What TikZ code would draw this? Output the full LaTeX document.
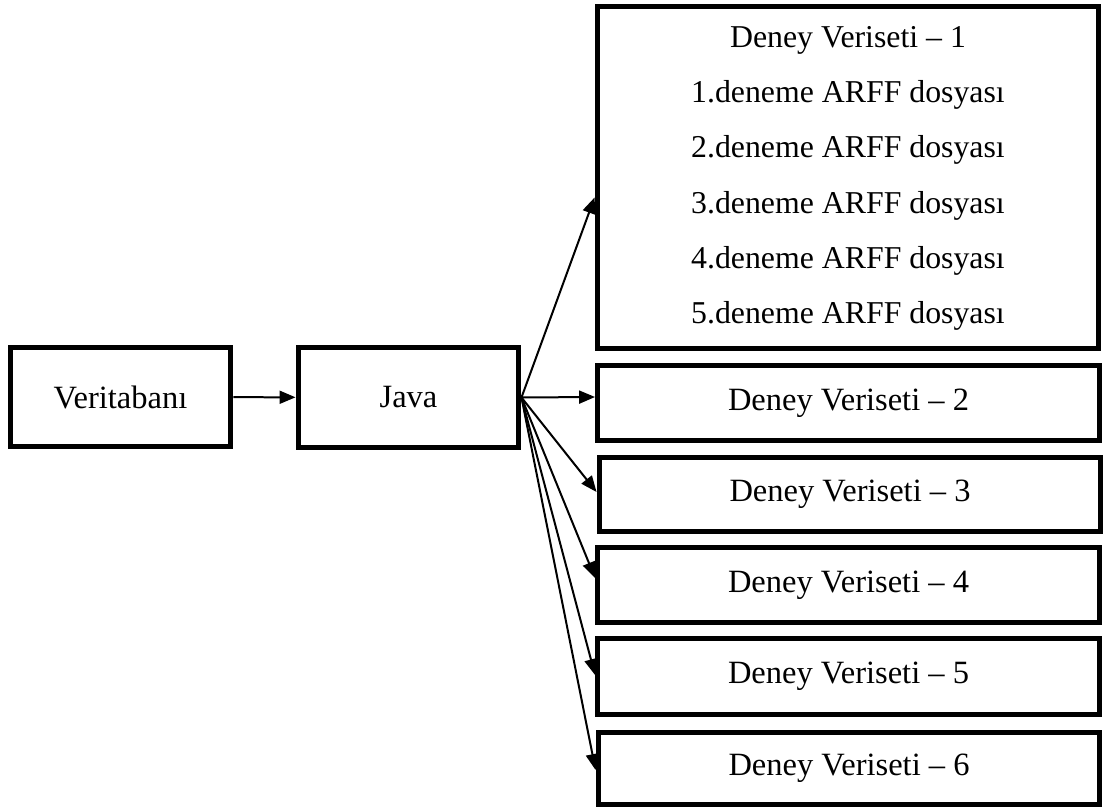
\documentclass[tikz,border=0pt]{standalone}
\usepackage{fontspec}
\setmainfont{Liberation Serif}
\usetikzlibrary{arrows.meta}

\begin{document}
\begin{tikzpicture}[x=0.02cm, y=-0.02cm]
    \tikzstyle{box} = [draw=black, line width=0.1cm, minimum width=10.04cm, minimum height=1.52cm, inner sep=0pt, font=\fontsize{18.5}{22}\selectfont]
    \tikzstyle{conn} = [line width=0.04cm, -{Triangle[length=0.32cm, width=0.26cm]}]
    \useasboundingbox (0,0) rectangle (1105,807);
    \node[box, minimum width=4.42cm, minimum height=2cm] (db) at (120.5,397) {Veritaban\i};
    \node[box, minimum width=4.42cm, minimum height=2cm] (java) at (408.5,397.5) {Java};
    \node[box, minimum height=6.86cm, align=center, font=\fontsize{18.1}{31.4}\selectfont, text depth=0.1cm] (set1) at (848,177.5)
        {Deney Veriseti -- 1\\1.deneme ARFF dosyas\i\\2.deneme ARFF dosyas\i\\3.deneme ARFF dosyas\i\\4.deneme ARFF dosyas\i\\5.deneme ARFF dosyas\i};
    \node[box] (set2) at (848.5,403) {Deney Veriseti -- 2};
    \node[box, minimum height=1.5cm] (set3) at (850,494.5) {Deney Veriseti -- 3};
    \node[box] (set4) at (848.5,585) {Deney Veriseti -- 4};
    \node[box, minimum height=1.54cm] (set5) at (848.5,676.5) {Deney Veriseti -- 5};
    \node[box, minimum height=1.46cm] (set6) at (849,768.5) {Deney Veriseti -- 6};
    \draw[conn] (db) -- (java);
    \draw[conn] (java.east) -- ([yshift=-0.4cm]set1.west);
    \draw[conn] (java.east) -- ([yshift=0.12cm]set2.west);
    \draw[conn] (java.east) -- ([yshift=0.05cm]set3.west);
    \draw[conn] (java.east) -- ([yshift=0.14cm]set4.west);
    \draw[conn] (java.east) -- ([yshift=0.03cm]set5.west);
    \draw[conn] (java.east) -- ([yshift=-0.03cm]set6.west);
\end{tikzpicture}
\end{document}
